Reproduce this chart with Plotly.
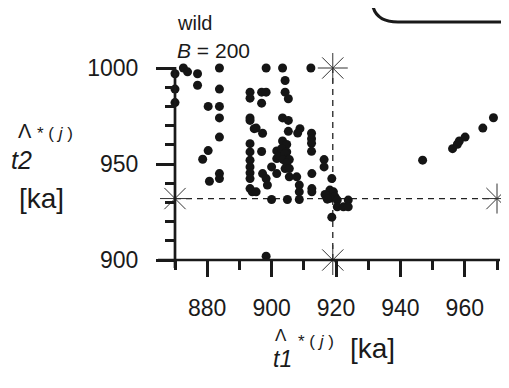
import plotly.graph_objects as go

# ---- data ----
t1 = [870, 870, 870, 872.6, 873.9, 877, 877,
      880.3, 880.3, 878.6, 880.7,
      883.8, 883.8, 883.8, 883.8, 883.8, 883.8, 883.8,
      893.3, 893.3, 893.3, 893.3, 894.6, 893.3, 893.3, 893.3, 893.3, 893.3, 893.3, 893.3, 894.0,
      895.2, 895.2,
      896.9, 898.3, 896.9, 897.2, 896.9, 897.2, 898.3, 898.7, 898.3, 898.3,
      900, 900,
      901.6, 901.6, 901.6, 902.4,
      903.4, 904.2, 904.2, 905.2, 903.4, 905.2, 905.2, 903.4, 904.7, 903.1, 904.7, 904.2,
      904.7, 903.6, 905.5, 904.7, 904.2, 905.5, 905.5, 904.9,
      908.8, 908.1, 907.8, 908.6, 908.6, 908.6,
      912.2, 912.4, 912.4, 912.4, 912.4, 912.5, 912.5, 912.5,
      916.3, 916.3,
      918.7, 918.1, 919.2, 919.7, 918.1, 916.6, 917.3, 920.4, 920.4, 922.3, 923.8, 923.8, 918.7,
      946.9, 956.2, 957.7, 958.3, 960.1, 965.6, 968.9]
t2 = [997, 989, 982, 1000, 998, 997, 991,
      980, 957, 952.5, 941,
      1000, 989, 980, 974, 964, 945, 942.4,
      987.4, 984.3, 974, 972.7, 968.4, 960.6, 956.3, 952, 948.5, 945.4, 942.4, 937.2, 935.5,
      968.7, 935.5,
      987.4, 987.4, 981.7, 966, 956.5, 945, 942.4, 939, 1000, 902,
      948.5, 931.5,
      956.8, 952.8, 945, 954.5,
      1000, 993.5, 987.4, 984, 974, 972.7, 967, 962, 960.2, 958, 956.3, 955.4,
      952.8, 952.3, 952.3, 950.5, 947.6, 947.6, 943.3, 931.5,
      968.4, 966.1, 943.3, 939, 935.5, 931.5,
      1000, 966, 963.2, 960.8, 956.6, 945, 937.2, 935.5,
      952.3, 948.5,
      942.4, 936.4, 935.5, 932.9, 932.1, 934.1, 931.7, 931.2, 927.7, 927.7, 931.2, 927.7, 922.3,
      952, 958, 960.3, 962, 964, 968.7, 974.1]

star_t1 = [870, 970, 919, 919]
star_t2 = [932, 932, 1000, 900]
h_line_t1 = [870, 970]
h_line_t2 = [932, 932]
v_line_t1 = [919, 919]
v_line_t2 = [900, 1000]

x_major = [880, 900, 920, 940, 960]
y_major = [900, 950, 1000]

FONT = "Liberation Sans, Arial, sans-serif"
OFF = 8  # page body margin
W, H = 509 - OFF, 388 - OFF
L, T = 175 - OFF, 68 - OFF
PW, PH = 322, 192
R = W - L - PW
B = H - T - PH


def px(x):
    return (x - OFF - L) / PW


def py(y):
    return (T + PH - (y - OFF)) / PH


fig = go.Figure()
fig.add_trace(go.Scatter(x=h_line_t1, y=h_line_t2, mode="lines",
                         line=dict(color="#222", width=1.3, dash="6px,5px"),
                         hoverinfo="skip", showlegend=False, cliponaxis=False))
fig.add_trace(go.Scatter(x=v_line_t1, y=v_line_t2, mode="lines",
                         line=dict(color="#222", width=1.3, dash="6px,5px"),
                         hoverinfo="skip", showlegend=False, cliponaxis=False))
fig.add_trace(go.Scatter(x=t1, y=t2, mode="markers",
                         marker=dict(color="#151515", size=9, line=dict(width=0)),
                         showlegend=False, cliponaxis=False))
fig.add_trace(go.Scatter(x=star_t1, y=star_t2, mode="markers",
                         marker=dict(symbol="asterisk-open", size=25, color="#333",
                                     line=dict(color="#333", width=1)),
                         showlegend=False, cliponaxis=False))

fig.update_layout(
    width=W, height=H,
    margin=dict(l=L, r=R, t=T, b=B),
    paper_bgcolor="white", plot_bgcolor="white",
    font=dict(family=FONT, color="#1a1a1a"),
    xaxis=dict(range=[870, 970], showgrid=False, zeroline=False, showline=False,
               tickmode="array", tickvals=x_major, ticks="outside", ticklen=16,
               tickwidth=2.5, tickcolor="#1a1a1a",
               tickfont=dict(size=23, family=FONT, color="#1a1a1a"),
               ticklabelstandoff=11,
               minor=dict(tickmode="linear", tick0=870, dtick=10, ticks="outside",
                          ticklen=9, tickwidth=2.5, tickcolor="#1a1a1a")),
    yaxis=dict(range=[900, 1000], showgrid=False, zeroline=False, showline=False,
               tickmode="array", tickvals=y_major, ticks="outside", ticklen=18,
               tickwidth=2.5, tickcolor="#1a1a1a",
               tickfont=dict(size=23, family=FONT, color="#1a1a1a"),
               ticklabelstandoff=13,
               minor=dict(tickmode="linear", tick0=900, dtick=10, ticks="outside",
                          ticklen=9, tickwidth=2.5, tickcolor="#1a1a1a")),
    shapes=[
        dict(type="line", xref="paper", yref="paper", x0=0, x1=0,
             y0=py(268), y1=py(67), line=dict(color="#1a1a1a", width=2.7)),
        dict(type="line", xref="paper", yref="paper", x0=px(158), x1=px(500),
             y0=0, y1=0, line=dict(color="#1a1a1a", width=2.7)),
        dict(type="path", xref="paper", yref="paper",
             path=f"M {px(372)},{py(-5)} L {px(372)},{py(0)} Q {px(373)},{py(22)} {px(398)},{py(22)} L {px(515)},{py(22)}",
             line=dict(color="#1a1a1a", width=3)),
    ],
)

ann = []


def A(text, x, y, size, xanchor="left"):
    ann.append(dict(text=text, xref="paper", yref="paper", x=px(x), y=py(y),
                    xanchor=xanchor, yanchor="middle", showarrow=False,
                    font=dict(size=size, family=FONT, color="#1a1a1a")))


A("wild", 175, 23, 20)
A("<i>B</i> = 200", 175, 50, 21)
# y axis title
A("Λ", 25, 131, 20, xanchor="center")
A("* ( <i>j</i> )", 35, 133, 17)
A("<i>t2</i>", 9, 160, 25)
A("[ka]", 17, 198, 28)
# x axis title
A("Λ", 281, 335, 17, xanchor="center")
A("* ( <i>j</i> )", 296, 341, 17)
A("<i>t1</i>", 271, 359, 23)
A("[ka]", 348, 348, 28)

fig.update_layout(annotations=ann)
fig.write_html("out.html")
